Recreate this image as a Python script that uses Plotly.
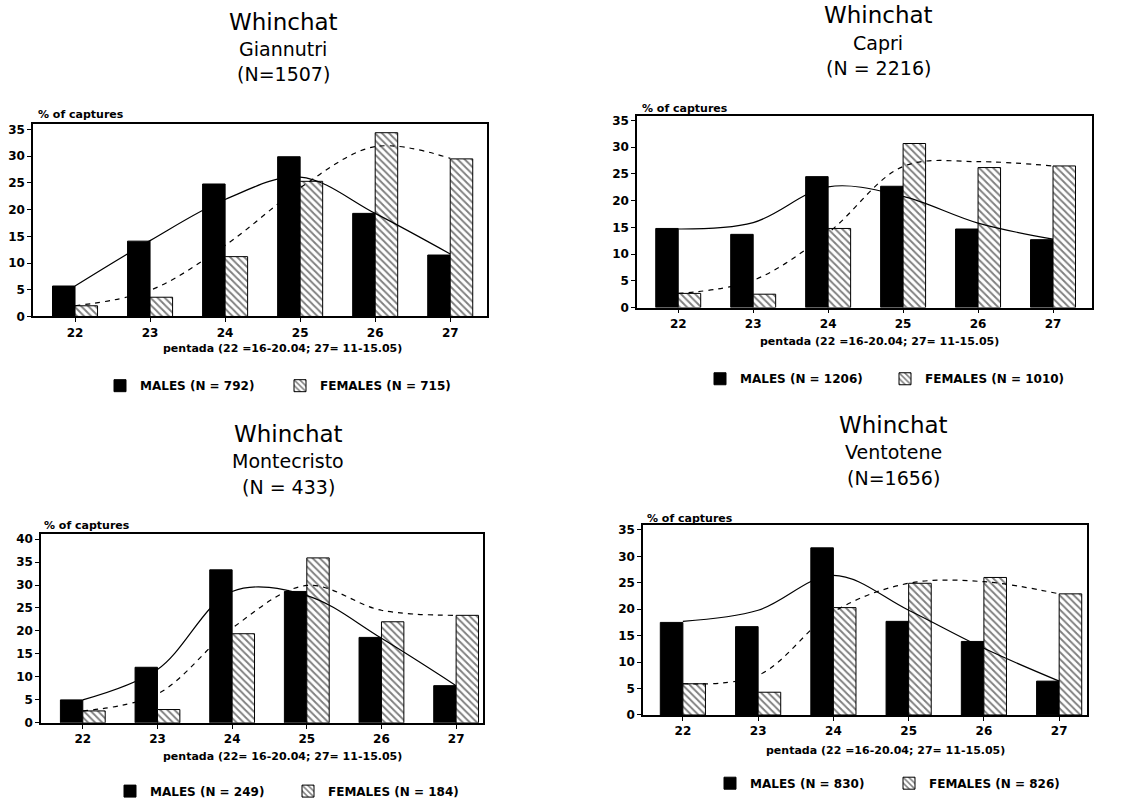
import plotly.graph_objects as go

pentads = [22, 23, 24, 25, 26, 27]

# Giannutri
giannutri_males = [5.7, 14.1, 24.8, 29.9, 19.3, 11.5]
giannutri_females = [2.0, 3.6, 11.2, 25.3, 34.4, 29.5]
giannutri_males_fit = [5.7, 14.2, 21.9, 26.1, 19.3, 11.7]
giannutri_females_fit = [2.0, 4.9, 13.3, 24.1, 31.8, 29.6]

# Capri
capri_males = [14.8, 13.7, 24.5, 22.7, 14.7, 12.7]
capri_females = [2.65, 2.5, 14.8, 30.7, 26.2, 26.5]
capri_males_fit = [14.7, 15.9, 22.6, 20.8, 15.8, 12.8]
capri_females_fit = [2.65, 5.1, 14.0, 26.4, 27.3, 26.5]

# Montecristo
montecristo_males = [5.0, 12.1, 33.3, 28.6, 18.6, 8.1]
montecristo_females = [2.6, 2.9, 19.4, 35.9, 22.0, 23.4]
montecristo_males_fit = [5.0, 11.6, 28.6, 27.7, 18.4, 8.1]
montecristo_females_fit = [2.6, 6.3, 20.6, 29.9, 24.5, 23.4]

# Ventotene
ventotene_males = [17.5, 16.7, 31.6, 17.7, 13.9, 6.4]
ventotene_females = [5.9, 4.3, 20.3, 24.9, 26.0, 22.9]
ventotene_males_fit = [17.7, 19.8, 26.4, 19.8, 12.6, 6.4]
ventotene_females_fit = [5.9, 7.5, 19.5, 24.9, 25.2, 22.9]

titles = [
    ("Whinchat", "Giannutri", "(N=1507)"),
    ("Whinchat", "Capri", "(N = 2216)"),
    ("Whinchat", "Montecristo", "(N = 433)"),
    ("Whinchat", "Ventotene", "(N=1656)"),
]
male_labels = ["MALES (N = 792)", "MALES (N = 1206)", "MALES (N = 249)", "MALES (N = 830)"]
female_labels = ["FEMALES (N = 715)", "FEMALES (N = 1010)", "FEMALES (N = 184)", "FEMALES (N = 826)"]
x_titles = [
    "pentada (22 =16-20.04; 27= 11-15.05)",
    "pentada (22 =16-20.04; 27= 11-15.05)",
    "pentada (22= 16-20.04; 27= 11-15.05)",
    "pentada (22 =16-20.04; 27= 11-15.05)",
]
y_title = "% of captures"
y_ticks = [[0, 5, 10, 15, 20, 25, 30, 35]] * 2 + [[0, 5, 10, 15, 20, 25, 30, 35, 40]] + [[0, 5, 10, 15, 20, 25, 30, 35]]

males = [giannutri_males, capri_males, montecristo_males, ventotene_males]
females = [giannutri_females, capri_females, montecristo_females, ventotene_females]
males_fit = [giannutri_males_fit, capri_males_fit, montecristo_males_fit, ventotene_males_fit]
females_fit = [giannutri_females_fit, capri_females_fit, montecristo_females_fit, ventotene_females_fit]

W, H = 1142, 807

def px_x(v):
    return v / W

def px_y(v):
    return 1 - v / H

# layout geometry (pixels): plot left, right, top, bottom
panels = [
    dict(l=33, r=487, t=123, b=318, xr=[21.44, 27.49], yr=[0, 36.1],
         title_x=283, title_y=(20, 48, 73), ylab=(36, 114), xt=(282, 350),
         leg_x=100, leg_y=388, entry=135),
    dict(l=637, r=1092, t=115, b=309, xr=[21.45, 27.52], yr=[0, 35.9],
         title_x=878, title_y=(13, 41, 67), ylab=(640, 108), xt=(880, 343),
         leg_x=700, leg_y=381, entry=140),
    dict(l=41, r=483, t=538, b=729, xr=[21.44, 27.36], yr=[0, 41.1],
         title_x=288, title_y=(437, 464, 490), ylab=(42, 529), xt=(282, 763),
         leg_x=110, leg_y=798, entry=133),
    dict(l=643, r=1087, t=529, b=721, xr=[21.47, 27.37], yr=[0, 35.9],
         title_x=893, title_y=(428, 455, 481), ylab=(645, 522), xt=(885, 757),
         leg_x=710, leg_y=790, entry=134),
]

FONT = "DejaVu Sans"
fig = go.Figure()
annotations = []
layout = dict(
    width=W, height=H, autosize=False,
    margin=dict(l=0, r=0, t=0, b=0),
    paper_bgcolor="white", plot_bgcolor="white",
    barmode="group", bargap=0.4, bargroupgap=0,
    font=dict(family=FONT, color="black"),
)

for i, p in enumerate(panels):
    n = "" if i == 0 else str(i + 1)
    xa, ya = "x" + n, "y" + n
    leg = "legend" + n
    fig.add_trace(go.Bar(
        x=pentads, y=males[i], name=male_labels[i], xaxis=xa, yaxis=ya,
        marker=dict(color="black", line=dict(color="black", width=1)),
        legend=leg, offsetgroup="m",
    ))
    fig.add_trace(go.Bar(
        x=pentads, y=females[i], name=female_labels[i], xaxis=xa, yaxis=ya,
        marker=dict(color="white", line=dict(color="black", width=1),
                    pattern=dict(shape="\\", fgcolor="black", bgcolor="white",
                                 size=5, solidity=0.38)),
        legend=leg, offsetgroup="f",
    ))
    fig.add_trace(go.Scatter(
        x=pentads, y=males_fit[i], mode="lines", xaxis=xa, yaxis=ya,
        line=dict(color="black", width=1.2, shape="spline", smoothing=1.0),
        showlegend=False, hoverinfo="skip",
    ))
    fig.add_trace(go.Scatter(
        x=pentads, y=females_fit[i], mode="lines", xaxis=xa, yaxis=ya,
        line=dict(color="black", width=1.2, shape="spline", smoothing=1.0, dash="5px,5px"),
        showlegend=False, hoverinfo="skip",
    ))

    layout["xaxis" + n] = dict(
        domain=[px_x(p["l"]), px_x(p["r"])], anchor=ya, range=p["xr"],
        tickmode="array", tickvals=pentads, ticktext=[str(v) for v in pentads],
        ticks="outside", ticklen=4, tickcolor="black",
        showline=True, linecolor="black", linewidth=1.5, mirror=True,
        showgrid=False, zeroline=False, fixedrange=True,
        tickfont=dict(family=FONT, size=12, weight="bold", color="black"),
    )
    layout["yaxis" + n] = dict(
        domain=[px_y(p["b"]), px_y(p["t"])], anchor=xa, range=p["yr"],
        tickmode="array", tickvals=y_ticks[i],
        ticks="outside", ticklen=4, tickcolor="black",
        showline=True, linecolor="black", linewidth=1.5, mirror=True,
        showgrid=False, zeroline=False, fixedrange=True,
        tickfont=dict(family=FONT, size=12, weight="bold", color="black"),
    )
    layout[leg] = dict(
        orientation="h", x=px_x(p["leg_x"]), xanchor="left",
        y=px_y(p["leg_y"]), yanchor="middle",
        entrywidth=p["entry"], entrywidthmode="pixels",
        font=dict(family=FONT, size=12, weight="bold", color="black"),
        bgcolor="rgba(0,0,0,0)", borderwidth=0, traceorder="normal",
        itemclick=False, itemdoubleclick=False,
    )

    t1, t2, t3 = titles[i]
    ty = p["title_y"]
    annotations.append(dict(text=t1, x=px_x(p["title_x"]), y=px_y(ty[0]), xref="paper", yref="paper",
                            xanchor="center", yanchor="middle", showarrow=False,
                            font=dict(family=FONT, size=23, color="black")))
    annotations.append(dict(text=t2, x=px_x(p["title_x"]), y=px_y(ty[1]), xref="paper", yref="paper",
                            xanchor="center", yanchor="middle", showarrow=False,
                            font=dict(family=FONT, size=19, color="black")))
    annotations.append(dict(text=t3, x=px_x(p["title_x"]), y=px_y(ty[2]), xref="paper", yref="paper",
                            xanchor="center", yanchor="middle", showarrow=False,
                            font=dict(family=FONT, size=19, color="black")))
    annotations.append(dict(text=y_title, x=px_x(p["ylab"][0]), y=px_y(p["ylab"][1]), xref="paper", yref="paper",
                            xanchor="left", yanchor="middle", showarrow=False,
                            font=dict(family=FONT, size=11, weight="bold", color="black")))
    annotations.append(dict(text=x_titles[i], x=px_x(p["xt"][0]), y=px_y(p["xt"][1]), xref="paper", yref="paper",
                            xanchor="center", yanchor="middle", showarrow=False,
                            font=dict(family=FONT, size=11, weight="bold", color="black")))

layout["annotations"] = annotations
fig.update_layout(**layout)
fig.write_html("out.html", config={"displayModeBar": False})
